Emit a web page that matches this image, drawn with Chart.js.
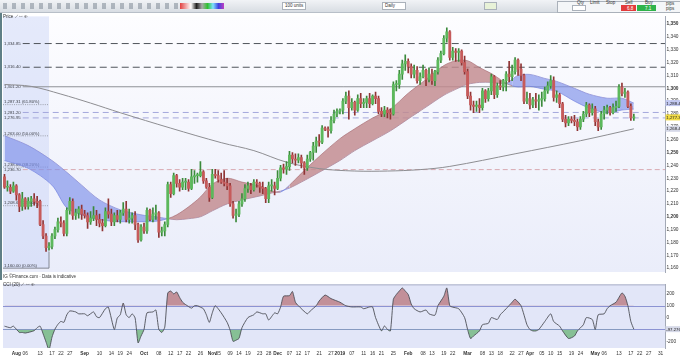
<!DOCTYPE html>
<html>
<head>
<meta charset="utf-8">
<script src="https://cdn.jsdelivr.net/npm/chart.js@4.4.1/dist/chart.umd.min.js"></script>
<style>
  html, body { margin: 0; padding: 0; background: #fff; }
  #wrap { position: relative; width: 680px; height: 360px; overflow: hidden; font-family: "Liberation Sans", Arial, sans-serif; }
  #toolbar { position: absolute; left: 0; top: 0; width: 680px; height: 12px; background: linear-gradient(#f1f3f6, #d8dde3); border-bottom: 1px solid #b8bfc8; }
  #mainCanvas { position: absolute; left: 0; top: 12px; }
  #lowerCanvas { position: absolute; left: 0; top: 280px; }
  .t { position: absolute; font-size: 4.5px; color: #333; white-space: nowrap; line-height: 5px; }
  .box { position: absolute; border: 1px solid #aab1ba; background: #fff; }
  #icons { position: absolute; left: 3px; top: 3px; width: 176px; height: 6px;
    background: repeating-linear-gradient(90deg, #7f8a96 0 4px, transparent 4px 9px); opacity: .55; }
  #palette { position: absolute; left: 180px; top: 3px; width: 44px; height: 6px;
    background: linear-gradient(90deg, #e04040, #f0a0a0, #fff, #222, #aaa, #30c030, #80e0ff, #4040e0, #c040c0); }
  #leftEdge { position: absolute; left: 0; top: 13px; width: 2px; height: 267px; background: #5f7f86; }
</style>
</head>
<body>
<div id="wrap">
  <div id="toolbar">
    <div id="icons"></div>
    <div id="palette"></div>
    <div class="box" style="left:282px;top:2px;width:22px;height:6px;"></div>
    <div class="t" style="left:285px;top:3px;">100 units</div>
    <div class="box" style="left:382px;top:2px;width:22px;height:6px;"></div>
    <div class="t" style="left:385px;top:3px;">Daily</div>
    <div class="box" style="left:484px;top:2px;width:11px;height:6px;background:#e8f2d8;"></div>
    <div class="box" style="left:557px;top:1px;width:122px;height:10px;background:#f4f6f8;"></div>
    <div class="t" style="left:577px;top:0px;">Qty</div>
    <div class="box" style="left:572px;top:5px;width:12px;height:4px;"></div>
    <div class="t" style="left:590px;top:0px;">Limit</div>
    <div class="t" style="left:606px;top:0px;">Stop</div>
    <div class="t" style="left:625px;top:0px;">Sell</div>
    <div class="t" style="left:645px;top:0px;">Buy</div>
    <div style="position:absolute;left:621px;top:5px;width:15px;height:6px;background:#e23b3b;"></div>
    <div class="t" style="left:627px;top:5.5px;color:#fff;">6.8</div>
    <div style="position:absolute;left:637px;top:5px;width:19px;height:6px;background:#2fb34a;"></div>
    <div class="t" style="left:645px;top:5.5px;color:#fff;">7.1</div>
    <div class="t" style="left:666px;top:1px;">pips</div>
    <div class="t" style="left:666px;top:6px;">pips</div>
  </div>
  <div id="leftEdge"></div>
  <canvas id="mainCanvas" width="680" height="268"></canvas>
  <canvas id="lowerCanvas" width="680" height="80"></canvas>
  <div class="t" style="left:3px;top:14px;">Price ⟋ ▭ ⊕</div>
  <div class="t" style="left:3px;top:274px;">IG ©Finance.com · Data is indicative</div>
  <div class="t" style="left:3px;top:282px;">CCI (20) ⟋ ▭ ⊕</div>
</div>
<script>
const FONT = '"Liberation Sans", Arial, sans-serif';

// trading days (weekdays) shown on the axis
const dates = [];
for (let d = new Date(Date.UTC(2018, 6, 26)); d <= new Date(Date.UTC(2019, 5, 3)); d.setUTCDate(d.getUTCDate() + 1)) {
  const wd = d.getUTCDay();
  if (wd !== 0 && wd !== 6) dates.push(d.toISOString().slice(0, 10));
}

// daily candles, Jul 26 2018 .. May 20 2019
const opens = [
  1231,1223,1223,1220,
  1224,1217,1208,1214,1208,1212,1214,1212,1212,1194,1185,1176,1177,1185,1190,1196,1195,1187,1205,1212,1201,1203,1206,
  1202,1201,1196,1199,1201,1198,1195,1193,1204,1202,1196,1201,1198,1203,1206,1198,1199,1201,1194,1182,
  1192,1189,1205,1198,1202,1203,1188,1189,1194,1225,1218,1232,1226,1223,1227,1227,1222,1231,1232,1232,1235,1228,1223,
  1215,1233,1232,1229,1227,1226,1224,1210,1201,1202,1210,1214,1222,1224,1221,1227,1226,1223,1222,1214,1224,1224,
  1222,1230,1238,1237,1239,1248,1245,1244,1246,1242,1238,1245,1250,1255,1259,1258,1269,1268,1267,1275,1280,
  1282,1283,1290,1294,1285,1289,1283,1292,1288,1289,1292,1288,1294,1292,1282,1280,1283,1281,1280,1303,1303,1311,1319,
  1321,1317,1311,1314,1306,1309,1314,1307,1311,1306,1313,1322,1327,1339,1344,1324,1329,1328,1329,1320,
  1313,1294,1287,1286,1287,1285,1298,1292,1298,1309,1295,1302,1301,1306,1311,1309,1313,1322,1315,1310,1290,
  1292,1287,1291,1290,1291,1292,1298,1302,1306,1293,1295,1288,1276,1273,1276,1275,1274,1270,1276,1280,1287,1281,
  1284,1274,1270,1280,1283,1285,1281,1285,1286,1301,1296,1297,1286,1277
];
const highs = [
  1233,1228,1225,1227,
  1225,1218,1219,1215,1215,1216,1218,1216,1213,1197,1187,1180,1187,1192,1199,1200,1197,1207,1215,1214,1206,1208,1209,
  1205,1203,1204,1208,1205,1202,1198,1207,1214,1206,1203,1205,1205,1211,1212,1206,1203,1204,1195,1194,
  1195,1207,1206,1207,1209,1204,1192,1196,1227,1227,1234,1233,1229,1230,1230,1229,1237,1236,1234,1243,1236,1230,1226,
  1237,1237,1236,1234,1236,1230,1226,1212,1206,1212,1218,1225,1227,1226,1229,1229,1227,1227,1223,1227,1229,1227,
  1236,1240,1241,1243,1251,1250,1249,1249,1248,1243,1248,1251,1258,1262,1264,1271,1270,1270,1278,1283,1284,
  1284,1292,1297,1298,1292,1290,1295,1296,1292,1294,1296,1295,1297,1294,1285,1286,1285,1284,1305,1306,1314,1322,1326,
  1323,1319,1318,1317,1312,1318,1315,1316,1315,1314,1324,1329,1341,1347,1345,1332,1331,1331,1330,1325,
  1315,1297,1290,1290,1292,1300,1299,1300,1311,1310,1304,1306,1307,1313,1321,1318,1324,1323,1319,1311,1297,
  1296,1293,1296,1295,1297,1301,1305,1310,1309,1298,1296,1289,1279,1278,1278,1279,1276,1278,1282,1289,1288,1288,
  1286,1276,1282,1286,1287,1286,1288,1290,1303,1304,1300,1298,1288,1280
];
const lows = [
  1222,1220,1218,1219,
  1213,1204,1205,1206,1206,1208,1209,1207,1193,1183,1173,1174,1175,1183,1188,1192,1185,1185,1202,1198,1198,1199,1198,
  1199,1191,1194,1197,1193,1192,1189,1192,1199,1193,1193,1196,1195,1201,1196,1195,1195,1190,1180,1181,
  1187,1187,1197,1196,1198,1184,1185,1185,1192,1215,1217,1223,1220,1221,1221,1220,1221,1226,1227,1231,1226,1222,1212,
  1214,1230,1227,1226,1224,1221,1208,1199,1196,1200,1208,1212,1219,1218,1220,1223,1219,1218,1211,1211,1220,1217,
  1221,1228,1234,1233,1236,1242,1240,1242,1238,1233,1236,1243,1244,1250,1255,1257,1267,1262,1265,1273,1278,
  1280,1280,1288,1276,1283,1279,1282,1285,1285,1285,1285,1287,1288,1280,1278,1278,1277,1276,1279,1298,1300,1307,1314,
  1312,1308,1308,1304,1303,1308,1302,1305,1303,1302,1311,1320,1326,1336,1322,1322,1321,1321,1318,1311,
  1292,1283,1281,1282,1281,1283,1289,1290,1295,1292,1293,1299,1298,1298,1305,1306,1311,1310,1306,1288,1288,
  1284,1285,1285,1283,1286,1290,1296,1300,1290,1289,1285,1274,1270,1271,1273,1271,1267,1268,1274,1278,1278,1279,
  1271,1267,1268,1276,1280,1279,1280,1282,1285,1294,1293,1285,1275,1275
];
const closes = [
  1223,1223,1220,1224,
  1217,1208,1214,1208,1212,1214,1212,1211,1194,1185,1176,1177,1185,1190,1196,1195,1187,1205,1212,1201,1203,1206,1202,
  1201,1196,1199,1201,1198,1195,1193,1204,1202,1196,1201,1198,1203,1206,1198,1199,1201,1194,1182,1192,
  1189,1205,1198,1202,1203,1188,1189,1194,1225,1218,1232,1226,1223,1227,1227,1222,1231,1232,1232,1235,1228,1223,1215,
  1233,1232,1229,1227,1226,1224,1210,1201,1202,1210,1214,1222,1224,1221,1227,1226,1223,1222,1214,1224,1224,1222,
  1230,1238,1237,1239,1248,1245,1244,1246,1242,1238,1245,1250,1255,1259,1258,1269,1268,1267,1275,1280,1282,
  1283,1290,1294,1285,1289,1283,1292,1288,1289,1292,1288,1294,1292,1282,1280,1283,1281,1280,1303,1303,1311,1319,1321,
  1317,1311,1314,1306,1309,1314,1307,1311,1306,1313,1322,1327,1339,1344,1324,1329,1328,1329,1320,1313,
  1294,1287,1286,1287,1285,1298,1292,1298,1309,1295,1302,1301,1306,1311,1309,1313,1322,1315,1310,1290,1292,
  1287,1291,1290,1291,1292,1298,1302,1306,1293,1295,1288,1276,1273,1276,1275,1274,1270,1276,1280,1287,1281,1284,
  1274,1270,1280,1283,1285,1281,1285,1286,1301,1296,1297,1286,1277,1277.36
];

// moving averages read at sample days (index into dates)
const smaDay = [0, 9, 19, 29, 39, 56, 73, 84, 95, 106, 118, 129, 140, 150, 172, 194, 212];
const smaVal = [1303, 1301.5, 1295.5, 1288.5, 1281, 1269, 1257.7, 1251.5, 1242.5, 1237.5, 1235.6, 1235.6, 1236.7, 1239.2, 1249, 1259.2, 1268.46];

const emaDay = [0, 8, 16, 21, 26, 32, 39, 46, 51, 55, 58, 62, 66, 70, 75, 80, 86, 90, 93, 96,
  100, 106, 113, 118, 124, 130, 136, 142, 148, 152, 156, 160, 164, 167, 169, 171, 173, 177, 182, 186,
  192, 197, 203, 208, 212];
const emaFast = [1243.8, 1237.7, 1224.6, 1206.9, 1201.5, 1197.7, 1196.2, 1196.2, 1196.5, 1198.5,
  1201.5, 1207.7, 1215.4, 1225.4, 1230, 1227, 1224, 1220, 1219.2, 1224.6,
  1233.8, 1246.9, 1260.8, 1268.5, 1276.9, 1283.8, 1296.2, 1306.9, 1317.7, 1321.5,
  1321.5, 1316.2, 1311.5, 1306.9, 1303.8, 1302, 1301, 1301.5, 1299.2, 1297.7,
  1290, 1284.6, 1280.8, 1283.1, 1283.8];
const emaSlow = [1263.1, 1255.4, 1243.8, 1234.6, 1224.6, 1213.1, 1205.4, 1201.5, 1200, 1198.5,
  1197.7, 1198.5, 1200, 1204.6, 1210, 1213.1, 1216.2, 1218.5, 1220, 1222.3,
  1227, 1234.6, 1243.8, 1251.5, 1259.2, 1266.9, 1276.2, 1285.4, 1294.6, 1299.2,
  1303.1, 1304.6, 1304.6, 1303.8, 1303.8, 1307, 1310, 1310.8, 1307.7, 1305.4,
  1300, 1295.4, 1292.3, 1292.3, 1288.49];

// CCI (20) read at sample days
const cciDay = [0,2,3,5,6,7,10,11,12,13,14,15,16,17,18,19,20,21,22,24,25,27,28,30,31,32,34,35,37,38,
  39,40,41,42,43,44,45,46,47,48,50,51,52,53,54,55,56,57,58,59,60,61,63,64,65,66,67,68,69,70,
  71,73,75,76,77,78,79,80,82,84,85,87,88,89,91,92,93,94,96,97,98,99,102,103,105,106,108,110,112,113,
  115,117,120,121,123,124,125,127,128,129,130,131,132,133,134,135,136,137,138,140,142,143,145,146,148,149,150,151,153,155,
  156,157,158,160,161,163,164,166,167,169,171,172,174,176,177,178,179,180,182,184,185,187,188,190,192,193,195,196,198,199,
  200,202,203,204,206,208,209,210,211,212];
const cciVal = [-72,-85,-72,-125,-125,-130,-110,-85,-72,-136,-205,-272,-165,-97,-57,-32,-40,24,56,48,32,32,16,48,8,0,75,88,-100,-3,
  24,123,24,0,32,-3,-213,-155,-100,40,48,64,-100,-125,-80,208,224,200,216,170,130,110,80,100,100,88,75,24,-40,40,
  100,40,-40,-105,-200,-190,-175,-85,0,24,48,32,32,-20,40,32,88,180,185,220,130,100,32,56,100,140,190,160,140,130,
  100,90,90,75,90,90,0,-112,-70,-100,-112,155,195,224,250,224,195,115,75,48,64,32,20,100,180,250,100,88,75,0,
  -100,-176,-155,-112,-60,-48,0,-16,24,75,130,155,100,-60,-100,-112,-112,-100,-33,32,-33,-72,-112,-176,-155,-112,-60,0,-16,-100,
  24,32,75,100,130,208,180,100,-33,-97.276];

// horizontal levels drawn on the price panel
const levelPrices = [1334.85, 1316.40, 1301.20, 1281.20, 1276.95, 1236.70];
const levelKinds = ['major', 'major', 'pivot', 'minor', 'minor', 'pink'];

// fibonacci retracement of the Apr-Aug 2018 fall
const fibPrices = [1287.31, 1263.00, 1238.69, 1208.62, 1160.00];
const fibPcts = ['61.80%', '50.00%', '38.20%', '23.60%', '0.00%'];
const fibEndDate = '2018-08-16';

const yTicks = [1160,1170,1180,1190,1200,1210,1220,1230,1240,1250,1260,1270,1280,1290,1300,1310,1320,1330,1340,1350];
const cciTicks = [200, 100, 0, -100, -200];
const cciBands = [100, -100];

const tickDates = ['2018-08-01','2018-08-06','2018-08-13','2018-08-17','2018-08-22','2018-08-27',
  '2018-09-03','2018-09-10','2018-09-14','2018-09-19','2018-09-24',
  '2018-10-01','2018-10-08','2018-10-12','2018-10-17','2018-10-22','2018-10-26',
  '2018-11-01','2018-11-05','2018-11-09','2018-11-14','2018-11-19','2018-11-23','2018-11-28',
  '2018-12-03','2018-12-07','2018-12-12','2018-12-17','2018-12-21','2018-12-27',
  '2019-01-01','2019-01-07','2019-01-11','2019-01-16','2019-01-21','2019-01-25',
  '2019-02-01','2019-02-08','2019-02-13','2019-02-19','2019-02-22',
  '2019-03-01','2019-03-08','2019-03-13','2019-03-18','2019-03-22','2019-03-27',
  '2019-04-01','2019-04-05','2019-04-10','2019-04-15','2019-04-19','2019-04-24',
  '2019-05-01','2019-05-06','2019-05-13','2019-05-17','2019-05-22','2019-05-27','2019-05-31'];
const tickTexts = ['Aug','06','13','17','22','27',
  'Sep','10','14','19','24',
  'Oct','08','12','17','22','26',
  'Nov','05','09','14','19','23','28',
  'Dec','07','12','17','21','27',
  '2019','07','11','16','21','25',
  'Feb','08','13','19','22',
  'Mar','08','13','18','22','27',
  'Apr','05','10','15','19','24',
  'May','06','13','17','22','27','31'];

const tickMap = {};
tickDates.forEach((d, i) => { tickMap[d] = tickTexts[i]; });
const isMonth = s => /^[A-Z]|^2019$/.test(s || '');

const pts = (days, vals) => days.map((d, i) => ({ x: dates[d], y: vals[i] }));
const fmt = (v, n) => v.toLocaleString('en-US', { minimumFractionDigits: n, maximumFractionDigits: n });

const GREEN = '#5cb85c', GREEN_D = '#3b8a3b';
const RED = '#c65b5b', RED_D = '#8f3434';
const up = i => closes[i] >= opens[i];

function drawTag(ctx, x, y, text, bg, fg) {
  ctx.fillStyle = bg;
  ctx.fillRect(x, y - 3, 15, 6);
  ctx.fillStyle = fg;
  ctx.font = '4.3px ' + FONT;
  ctx.textAlign = 'left';
  ctx.textBaseline = 'middle';
  ctx.fillText(text, x + 0.8, y + 0.3);
}

// background, fib box and level lines of the price panel
const priceDecor = {
  id: 'priceDecor',
  beforeDraw(chart) {
    const { ctx, chartArea: a } = chart;
    ctx.save();
    const g = ctx.createLinearGradient(0, a.top, 0, a.bottom);
    g.addColorStop(0, '#fdfdff');
    g.addColorStop(1, '#eaedfa');
    ctx.fillStyle = g;
    ctx.fillRect(a.left, a.top, a.width, a.height);
    ctx.restore();
  },
  beforeDatasetsDraw(chart) {
    const { ctx, chartArea: a, scales: { x, y } } = chart;
    ctx.save();
    // fib box
    const fx = x.getPixelForValue(dates.indexOf(fibEndDate));
    const fy0 = y.getPixelForValue(fibPrices[fibPrices.length - 1]);
    ctx.fillStyle = 'rgba(196,208,246,0.42)';
    ctx.fillRect(a.left, a.top, fx - a.left, fy0 - a.top);
    ctx.font = '4.3px ' + FONT;
    ctx.textAlign = 'left';
    fibPrices.forEach((p, i) => {
      const py = y.getPixelForValue(p);
      ctx.strokeStyle = i === fibPrices.length - 1 ? '#6b6f78' : '#8d9099';
      ctx.setLineDash(i === fibPrices.length - 1 ? [] : [1, 1.2]);
      ctx.lineWidth = 0.8;
      ctx.beginPath(); ctx.moveTo(a.left, py); ctx.lineTo(fx, py); ctx.stroke();
      ctx.fillStyle = '#3a3d44';
      ctx.textBaseline = 'bottom';
      ctx.fillText(fmt(p, 2) + ' (' + fibPcts[i] + ')', a.left + 1, py - 0.3);
    });
    ctx.setLineDash([]);
    ctx.strokeStyle = '#6b6f78';
    ctx.beginPath();
    ctx.moveTo(fx, fy0);
    ctx.lineTo(fx, y.getPixelForValue(Math.min(...lows)));
    ctx.stroke();

    // levels
    levelPrices.forEach((p, i) => {
      const py = y.getPixelForValue(p);
      const kind = levelKinds[i];
      const label = fmt(p, 2);
      ctx.font = '4.3px ' + FONT;
      const lw = ctx.measureText(label).width;
      ctx.fillStyle = '#3a3d44';
      ctx.textBaseline = 'middle';
      ctx.fillText(label, a.left + 1, py);
      ctx.lineWidth = 1;
      if (kind === 'major') { ctx.strokeStyle = '#4f545b'; ctx.setLineDash([7, 4]); }
      else if (kind === 'pivot') { ctx.strokeStyle = '#8f9297'; ctx.setLineDash([]); }
      else if (kind === 'minor') { ctx.strokeStyle = '#a4a8dc'; ctx.setLineDash([6, 4]); }
      else { ctx.strokeStyle = '#d8a9b1'; ctx.setLineDash([5, 3]); }
      ctx.beginPath(); ctx.moveTo(a.left + lw + 3, py); ctx.lineTo(a.right, py); ctx.stroke();
    });
    ctx.restore();
  },
  afterDraw(chart) {
    const { ctx, chartArea: a, scales: { y } } = chart;
    ctx.save();
    const last = closes.length - 1;
    drawTag(ctx, a.right + 0.5, y.getPixelForValue(emaSlow[emaSlow.length - 1]), fmt(emaSlow[emaSlow.length - 1], 2), '#c3c9f3', '#222');
    drawTag(ctx, a.right + 0.5, y.getPixelForValue(closes[last]), fmt(closes[last], 2), '#f1db45', '#222');
    drawTag(ctx, a.right + 0.5, y.getPixelForValue(smaVal[smaVal.length - 1]), fmt(smaVal[smaVal.length - 1], 2), '#d6d9e8', '#222');
    ctx.restore();
  }
};

const edgeColor = c => emaFast[c.p0DataIndex] >= emaSlow[c.p0DataIndex] ? 'rgba(165,105,112,0.8)' : 'rgba(110,126,222,0.8)';

new Chart(document.getElementById('mainCanvas'), {
  type: 'bar',
  data: {
    labels: dates,
    datasets: [
      {
        label: 'Body',
        data: opens.map((o, i) => [o, closes[i]]),
        backgroundColor: ctx => up(ctx.dataIndex) ? GREEN : RED,
        borderWidth: 0,
        barThickness: 2.2,
        minBarLength: 1,
        grouped: false,
        order: 0
      },
      {
        label: 'Wick',
        data: lows.map((l, i) => [l, highs[i]]),
        backgroundColor: ctx => up(ctx.dataIndex) ? GREEN_D : RED_D,
        borderWidth: 0,
        barThickness: 1,
        grouped: false,
        order: 1
      },
      {
        type: 'line',
        label: 'SMA 200',
        data: pts(smaDay, smaVal),
        borderColor: '#8e8e92',
        borderWidth: 1,
        pointRadius: 0,
        tension: 0.35,
        fill: false,
        order: 2
      },
      {
        type: 'line',
        label: 'EMA fast',
        data: pts(emaDay, emaFast),
        borderWidth: 0.8,
        segment: { borderColor: edgeColor },
        pointRadius: 0,
        tension: 0.3,
        fill: { target: 4, above: 'rgba(194,138,142,0.82)', below: 'rgba(126,144,234,0.66)' },
        order: 3
      },
      {
        type: 'line',
        label: 'EMA slow',
        data: pts(emaDay, emaSlow),
        borderWidth: 0.8,
        segment: { borderColor: edgeColor },
        pointRadius: 0,
        tension: 0.3,
        fill: false,
        order: 4
      }
    ]
  },
  options: {
    responsive: false,
    animation: false,
    events: [],
    layout: { padding: { left: 3, right: 0, top: 2, bottom: 8 } },
    plugins: { legend: { display: false }, tooltip: { enabled: false } },
    scales: {
      x: { display: false, offset: true, grid: { display: false } },
      y: {
        position: 'right',
        min: 1157,
        max: 1356,
        afterBuildTicks: axis => { axis.ticks = yTicks.map(v => ({ value: v })); },
        afterFit: s => { s.width = 15; },
        grid: { display: false, drawTicks: false, tickLength: 0 },
        border: { display: true, color: '#a3a9b6' },
        ticks: {
          padding: 1.5,
          color: '#333',
          font: c => ({ family: FONT, size: 4.8, weight: c.tick && c.tick.value % 50 === 0 ? 'bold' : 'normal' }),
          callback: v => fmt(v, 0)
        }
      }
    }
  },
  plugins: [priceDecor]
});

// lower CCI panel
const cciDecor = {
  id: 'cciDecor',
  beforeDraw(chart) {
    const { ctx, chartArea: a } = chart;
    ctx.save();
    ctx.fillStyle = '#e2e6f8';
    ctx.fillRect(a.left, a.top, a.width, a.height);
    ctx.strokeStyle = '#a9afc6';
    ctx.lineWidth = 1;
    ctx.beginPath(); ctx.moveTo(a.left, a.top + 0.5); ctx.lineTo(a.right, a.top + 0.5); ctx.stroke();
    ctx.restore();
  },
  beforeDatasetsDraw(chart) {
    const { ctx, chartArea: a, scales: { y } } = chart;
    ctx.save();
    ctx.strokeStyle = '#8c93d3';
    ctx.lineWidth = 1;
    cciBands.forEach(v => {
      const py = Math.round(y.getPixelForValue(v)) + 0.5;
      ctx.beginPath(); ctx.moveTo(a.left, py); ctx.lineTo(a.right, py); ctx.stroke();
    });
    ctx.restore();
  },
  afterDraw(chart) {
    const { ctx, chartArea: a, scales: { y } } = chart;
    const v = cciVal[cciVal.length - 1];
    ctx.save();
    drawTag(ctx, a.right + 0.5, y.getPixelForValue(v), fmt(v, 3), '#d6d9e8', '#222');
    ctx.restore();
  }
};

new Chart(document.getElementById('lowerCanvas'), {
  type: 'line',
  data: {
    labels: dates,
    datasets: [
      {
        label: 'CCI',
        data: pts(cciDay, cciVal),
        borderColor: '#4d4f57',
        borderWidth: 0.9,
        pointRadius: 0,
        tension: 0.2,
        fill: { value: 100, above: 'rgba(188,128,136,0.85)', below: 'rgba(0,0,0,0)' }
      },
      {
        label: 'CCI low',
        data: pts(cciDay, cciVal),
        borderColor: 'rgba(0,0,0,0)',
        borderWidth: 0,
        pointRadius: 0,
        tension: 0.2,
        fill: { value: -100, above: 'rgba(0,0,0,0)', below: 'rgba(118,184,132,0.85)' }
      }
    ]
  },
  options: {
    responsive: false,
    animation: false,
    events: [],
    layout: { padding: { left: 3, right: 0, top: 1, bottom: 0 } },
    plugins: { legend: { display: false }, tooltip: { enabled: false } },
    scales: {
      x: {
        offset: true,
        grid: { display: false, drawTicks: false, tickLength: 0 },
        border: { display: false },
        afterFit: s => { s.height = 12; },
        ticks: {
          autoSkip: false,
          maxRotation: 0,
          padding: 3,
          color: '#333',
          font: c => ({ family: FONT, size: 4.8, weight: c.tick && isMonth(c.tick.label) ? 'bold' : 'normal' }),
          callback: v => tickMap[dates[v]] ?? null
        }
      },
      y: {
        position: 'right',
        min: -256,
        max: 280,
        afterBuildTicks: axis => { axis.ticks = cciTicks.map(v => ({ value: v })); },
        afterFit: s => { s.width = 15; },
        grid: { display: false, drawTicks: false, tickLength: 0 },
        border: { display: true, color: '#a3a9b6' },
        ticks: { padding: 1.5, color: '#333', font: { family: FONT, size: 4.8 }, callback: v => String(v) }
      }
    }
  },
  plugins: [cciDecor]
});
</script>
</body>
</html>
